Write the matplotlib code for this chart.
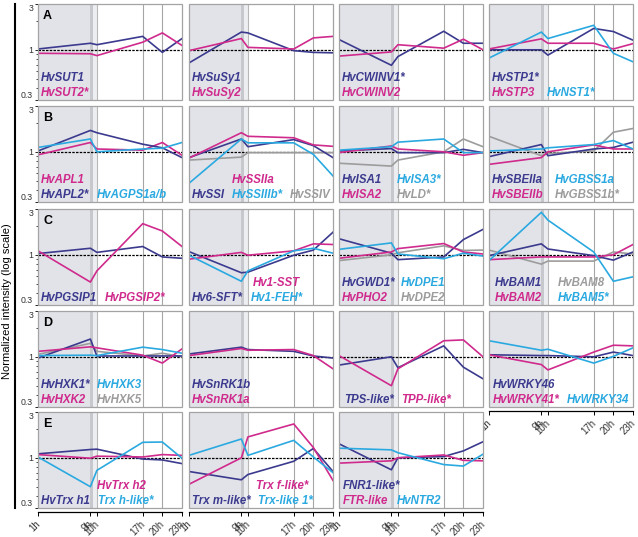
import matplotlib
matplotlib.use("Agg")
import matplotlib.pyplot as plt
from matplotlib.lines import Line2D
from matplotlib.patches import Rectangle

plt.rcParams["font.family"] = ["Liberation Sans", "DejaVu Sans"]

# ---------------- data (normalized intensity, sampled at these hours) ----------------
hours = [1, 9, 10, 17, 20, 23]
hour_labels = ["1h", "9h", "10h", "17h", "20h", "23h"]

# row A
sut1 = [1.02, 1.17, 1.13, 1.38, 0.94, 1.31]
sut2 = [0.92, 0.91, 0.87, 1.20, 1.50, 1.11]
susy1 = [0.73, 1.53, 1.50, 0.98, 0.94, 0.93]
susy2 = [0.98, 1.31, 1.06, 1.02, 1.33, 1.38]
cwinv1 = [1.28, 0.69, 0.85, 1.56, 1.17, 1.17]
cwinv2 = [0.86, 0.95, 1.13, 1.04, 1.29, 1.00]
stp1 = [1.00, 1.00, 0.88, 1.67, 1.55, 1.26]
stp3 = [1.02, 1.30, 1.17, 1.17, 1.02, 1.16]
nst1 = [0.82, 1.53, 1.31, 1.80, 0.92, 0.75]

# row B
apl1 = [0.93, 1.25, 1.07, 1.04, 1.25, 0.92]
apl2 = [1.02, 1.67, 1.58, 1.20, 1.10, 0.87]
agps1 = [1.11, 1.36, 1.00, 1.07, 1.09, 1.25]
ssiia = [0.86, 1.58, 1.45, 1.40, 1.18, 1.14]
ssi = [0.87, 1.36, 1.13, 1.34, 1.16, 0.87]
ssiiib = [0.47, 1.36, 1.24, 1.24, 0.94, 0.56]
ssiv = [0.82, 0.88, 0.98, 0.98, 0.98, 0.98]
isa1 = [1.02, 1.08, 0.98, 0.98, 1.06, 0.98]
isa2 = [0.98, 1.15, 1.07, 1.00, 0.92, 0.98]
isa3 = [1.04, 1.13, 1.26, 1.36, 0.98, 0.98]
ld = [0.76, 0.71, 0.82, 1.00, 1.36, 1.13]
sbeiia = [0.89, 1.19, 0.91, 1.07, 1.11, 1.26]
sbeiib = [0.74, 0.87, 1.00, 1.18, 1.07, 1.07]
gbss1a = [1.02, 1.07, 1.10, 1.19, 1.31, 1.07]
gbss1b = [1.45, 0.91, 0.96, 1.02, 1.60, 1.75]

# row C
pgsip1 = [1.03, 1.17, 1.06, 1.22, 0.95, 0.92]
pgsip2 = [1.10, 0.52, 0.68, 2.11, 1.77, 1.22]
sft6 = [1.08, 0.65, 0.66, 0.99, 1.12, 1.72]
sst1 = [0.90, 1.06, 0.99, 1.10, 1.30, 1.28]
feh1 = [0.99, 0.53, 0.68, 1.10, 1.17, 1.04]
gwd1 = [1.47, 1.04, 0.89, 0.95, 1.44, 1.84]
dpe1 = [1.14, 1.33, 1.02, 0.91, 1.04, 0.97]
pho2 = [0.92, 1.07, 1.16, 1.31, 1.07, 1.02]
dpe2 = [0.87, 1.00, 1.05, 1.24, 1.11, 1.12]
bam1 = [0.98, 1.30, 1.15, 0.98, 0.88, 1.07]
bam8 = [1.12, 0.80, 0.86, 0.86, 1.07, 1.02]
bam2 = [0.89, 0.95, 0.95, 0.95, 1.00, 1.28]
bam5 = [0.87, 2.77, 2.30, 1.07, 0.53, 0.59]

# row D
hxk1 = [0.97, 1.53, 1.02, 1.02, 1.02, 1.02]
hxk3 = [1.03, 1.04, 1.03, 1.26, 1.19, 1.09]
hxk2 = [1.14, 1.27, 1.24, 1.04, 0.86, 1.21]
hxk5 = [1.06, 1.38, 1.14, 1.02, 1.09, 1.00]
snrk1b = [1.07, 1.26, 1.19, 1.14, 1.02, 0.97]
snrk1a = [1.03, 1.22, 1.17, 1.19, 1.03, 0.75]
tps = [0.82, 1.00, 0.77, 1.30, 0.78, 0.59]
tpp = [1.03, 0.50, 0.75, 1.47, 1.50, 1.00]
wrky46 = [1.05, 1.03, 1.03, 1.00, 1.12, 1.03]
wrky41 = [1.05, 0.83, 0.73, 1.12, 1.32, 1.30]
wrky34 = [1.47, 1.17, 1.20, 0.86, 1.01, 1.24]

# row E
trxh1 = [1.10, 1.22, 1.23, 0.97, 0.95, 0.87]
trxh2 = [1.08, 0.99, 1.04, 1.02, 1.08, 1.06]
trxhl = [1.02, 0.50, 0.74, 1.45, 1.46, 0.99]
trxm = [0.72, 0.59, 0.67, 0.92, 1.25, 0.72]
trxf = [0.53, 1.00, 1.65, 2.25, 1.28, 0.58]
trxl1 = [1.06, 1.57, 1.06, 1.52, 1.02, 0.70]
fnr1 = [1.40, 0.75, 1.00, 1.03, 1.18, 1.47]
ftr = [0.88, 0.93, 1.00, 1.07, 0.94, 0.93]
ntr2 = [1.26, 1.21, 1.13, 0.85, 0.82, 1.09]

# ---------------- styles / layout ----------------
col = {"n": "#3b3a8e", "m": "#cf2a8c", "b": "#2aa9e0", "g": "#9c9c9c"}

W, H = 638, 537
col_left = [38, 189, 339, 489]
row_top = [4, 106, 209, 311, 412]
pw, ph = 144, 96

# (row, col, letter, series) ; series = (values, colour, label, label_x, label_line)
panels = [
    (0, 0, "A", [(sut1, "n", "HvSUT1", 0.02, 1), (sut2, "m", "HvSUT2*", 0.02, 0)]),
    (0, 1, None, [(susy1, "n", "HvSuSy1", 0.02, 1), (susy2, "m", "HvSuSy2", 0.02, 0)]),
    (0, 2, None, [(cwinv1, "n", "HvCWINV1*", 0.02, 1), (cwinv2, "m", "HvCWINV2", 0.02, 0)]),
    (0, 3, None, [(stp1, "n", "HvSTP1*", 0.02, 1), (stp3, "m", "HvSTP3", 0.02, 0),
                  (nst1, "b", "HvNST1*", 0.40, 0)]),
    (1, 0, "B", [(apl1, "m", "HvAPL1", 0.02, 1), (apl2, "n", "HvAPL2*", 0.02, 0),
                 (agps1, "b", "HvAGPS1a/b", 0.41, 0)]),
    (1, 1, None, [(ssiv, "g", "HvSSIV", 0.70, 0), (ssi, "n", "HvSSI", 0.02, 0),
                  (ssiiib, "b", "HvSSIIIb*", 0.30, 0), (ssiia, "m", "HvSSIIa", 0.30, 1)]),
    (1, 2, None, [(ld, "g", "HvLD*", 0.40, 0), (isa1, "n", "HvISA1", 0.02, 1),
                  (isa2, "m", "HvISA2", 0.02, 0), (isa3, "b", "HvISA3*", 0.40, 1)]),
    (1, 3, None, [(gbss1b, "g", "HvGBSS1b*", 0.46, 0), (sbeiia, "n", "HvSBEIIa", 0.02, 1),
                  (sbeiib, "m", "HvSBEIIb", 0.02, 0), (gbss1a, "b", "HvGBSS1a", 0.46, 1)]),
    (2, 0, "C", [(pgsip1, "n", "HvPGSIP1", 0.02, 0), (pgsip2, "m", "HvPGSIP2*", 0.465, 0)]),
    (2, 1, None, [(sft6, "n", "Hv6-SFT*", 0.02, 0), (sst1, "m", "Hv1-SST", 0.445, 1),
                  (feh1, "b", "Hv1-FEH*", 0.43, 0)]),
    (2, 2, None, [(dpe2, "g", "HvDPE2", 0.43, 0), (gwd1, "n", "HvGWD1*", 0.02, 1),
                  (pho2, "m", "HvPHO2", 0.02, 0), (dpe1, "b", "HvDPE1", 0.43, 1)]),
    (2, 3, None, [(bam8, "g", "HvBAM8", 0.48, 1), (bam1, "n", "HvBAM1", 0.04, 1),
                  (bam2, "m", "HvBAM2", 0.04, 0), (bam5, "b", "HvBAM5*", 0.48, 0)]),
    (3, 0, "D", [(hxk5, "g", "HvHXK5", 0.41, 0), (hxk1, "n", "HvHXK1*", 0.02, 1),
                 (hxk2, "m", "HvHXK2", 0.02, 0), (hxk3, "b", "HvHXK3", 0.41, 1)]),
    (3, 1, None, [(snrk1b, "n", "HvSnRK1b", 0.02, 1), (snrk1a, "m", "HvSnRK1a", 0.02, 0)]),
    (3, 2, None, [(tps, "n", "TPS-like*", 0.035, 0), (tpp, "m", "TPP-like*", 0.43, 0)]),
    (3, 3, None, [(wrky46, "n", "HvWRKY46", 0.025, 1), (wrky41, "m", "HvWRKY41*", 0.025, 0),
                  (wrky34, "b", "HvWRKY34", 0.54, 0)]),
    (4, 0, "E", [(trxh1, "n", "HvTrx h1", 0.02, 0), (trxh2, "m", "HvTrx h2", 0.41, 1),
                 (trxhl, "b", "Trx h-like*", 0.42, 0)]),
    (4, 1, None, [(trxm, "n", "Trx m-like*", 0.02, 0), (trxf, "m", "Trx f-like*", 0.465, 1),
                  (trxl1, "b", "Trx-like 1*", 0.48, 0)]),
    (4, 2, None, [(fnr1, "n", "FNR1-like*", 0.025, 1), (ftr, "m", "FTR-like", 0.025, 0),
                  (ntr2, "b", "HvNTR2", 0.40, 0)]),
]

fig = plt.figure(figsize=(W / 100, H / 100), dpi=100)

for r, c, letter, series in panels:
    x0 = col_left[c] / W
    y0 = 1 - (row_top[r] + ph) / H
    ax = fig.add_axes([x0, y0, pw / W, ph / H])
    ax.set_yscale("log")
    ax.set_xlim(1, 23)
    ax.set_ylim(0.3, 3)

    # night shading and time markers
    ax.axvspan(1, 9, color="#e2e3e9", lw=0, zorder=0)
    ax.axvspan(9, 9.45, color="#c7c8cd", lw=0, zorder=0)
    ax.axvspan(9.45, 10, color="#eceef1", lw=0, zorder=0)
    ax.axvline(10, color="#b8b8b8", lw=0.8, zorder=1)
    for t in (17, 20):
        ax.axvline(t, color="#a6a6a6", lw=0.8, zorder=1)
    ax.axhline(1, color="black", lw=0.9, ls=(0, (2, 1)), zorder=2)

    for vals, ck, name, lx, line in series:
        ax.plot(hours, vals, color=col[ck], lw=1.2, zorder=3)
        ax.text(lx, 0.2 if line else 0.04, name, transform=ax.transAxes,
                color=col[ck], fontsize=8.3, fontweight="bold", style="italic",
                va="baseline", ha="left", zorder=5)

    if letter:
        ax.text(0.035, 0.94, letter, transform=ax.transAxes, fontsize=9,
                fontweight="bold", va="top", ha="left")

    # frame
    for s in ax.spines.values():
        s.set_visible(False)
    ax.add_patch(Rectangle((0, 0), 1, 1, transform=ax.transAxes, fill=False,
                           ec="#a3a3a3", lw=0.9, clip_on=False, zorder=6))

    # y axis only on first column
    if c == 0:
        ax.set_yticks([0.3, 1, 3])
        ax.set_yticklabels(["0.3", "1", "3"])
        ax.tick_params(axis="y", which="major", length=2.5, width=0.6,
                       labelsize=6.3, pad=1, labelcolor="#333333")
        ax.tick_params(axis="y", which="minor", length=1.5, width=0.5)
        ax.yaxis.set_minor_formatter(plt.NullFormatter())
        ylabs = ax.get_yticklabels()
        ylabs[0].set_va("bottom")
        ylabs[2].set_va("top")
    else:
        ax.tick_params(axis="y", which="both", left=False, labelleft=False)

    # x axis on bottom row and last panel of row D
    if r == 4 or (r == 3 and c == 3):
        ax.spines["bottom"].set_visible(True)
        ax.spines["bottom"].set_position(("outward", 3))
        ax.spines["bottom"].set_color("black")
        ax.spines["bottom"].set_linewidth(0.9)
        ax.set_xticks(hours)
        ax.set_xticklabels(hour_labels, rotation=45, ha="right",
                           va="center_baseline", rotation_mode="anchor")
        ax.tick_params(axis="x", length=3, width=0.7, labelsize=7, pad=4,
                       labelcolor="#333333")
    else:
        ax.tick_params(axis="x", bottom=False, labelbottom=False)

# left bracket and y label
fig.add_artist(Line2D([15 / W, 15 / W], [1 - 4 / H, 1 - 508 / H],
                      color="black", lw=1.5))
fig.text(0.011, 0.44, "Normalized intensity (log scale)", rotation=90,
         fontsize=8, va="center", ha="center")

fig.savefig("out.png", dpi=100)
